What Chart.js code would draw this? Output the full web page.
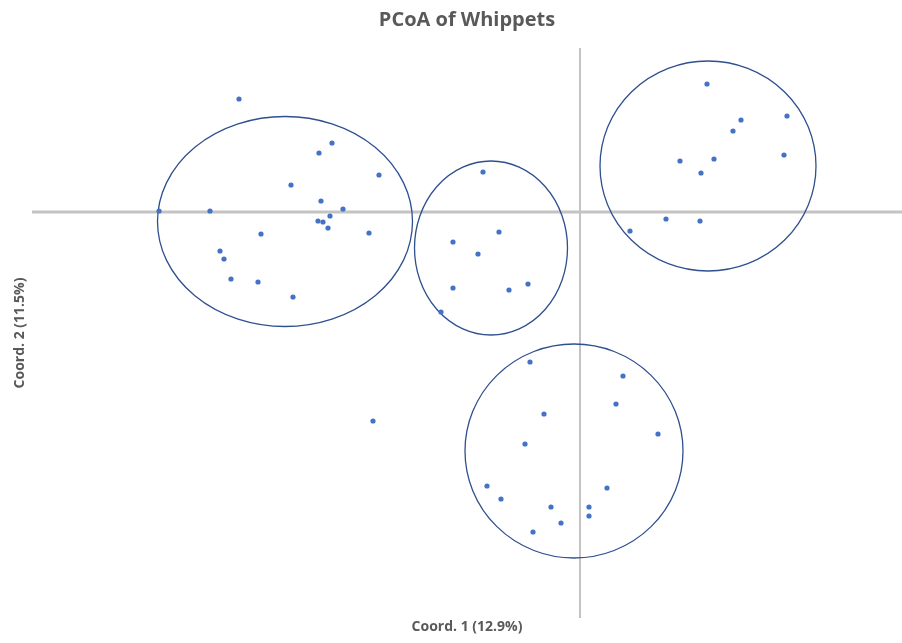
<!DOCTYPE html>
<html>
<head>
<meta charset="utf-8">
<title>PCoA of Whippets</title>
<script src="https://cdn.jsdelivr.net/npm/chart.js@4.4.1/dist/chart.umd.min.js"></script>
<style>
    html, body { margin: 0; padding: 0; background: #ffffff; overflow: hidden; }
    #wrap { width: 902px; height: 643px; }
</style>
</head>
<body>
<div id="wrap"><canvas id="chart"></canvas></div>
<script>
// Koordinaten der Hunde (Coord. 1 / Coord. 2)
const coord1 = [
    -0.341, -0.248, -0.261, -0.201, -0.289, -0.259, -0.421, -0.370, -0.237, -0.250,
    -0.262, -0.257, -0.252, -0.319, -0.211, -0.360, -0.356, -0.349, -0.322, -0.287,
    -0.207,
    -0.097, -0.081, -0.127, -0.102, -0.127, -0.071, -0.052, -0.139,
    0.127, 0.207, 0.161, 0.153, 0.204, 0.100, 0.134, 0.121, 0.086, 0.120, 0.050,
    -0.050, 0.043, 0.036, -0.036, 0.078, -0.055, -0.093, 0.027, -0.079, -0.029,
    0.009, 0.009, -0.019, -0.047
];
const coord2 = [
    0.113, 0.069, 0.059, 0.037, 0.027, 0.011, 0.001, 0.001, 0.003, -0.004,
    -0.009, -0.010, -0.016, -0.022, -0.021, -0.039, -0.047, -0.067, -0.070, -0.085,
    -0.209,
    0.040, -0.020, -0.030, -0.042, -0.076, -0.078, -0.072, -0.100,
    0.128, 0.096, 0.092, 0.081, 0.057, 0.051, 0.053, 0.039, -0.007, -0.009, -0.019,
    -0.150, -0.164, -0.192, -0.202, -0.222, -0.232, -0.274, -0.276, -0.287, -0.295,
    -0.295, -0.304, -0.311, -0.320
];

// Gruppen-Ellipsen (Mittelpunkt + Radien in Datenwerten)
const ellipseCx = [-0.295, -0.089, 0.128, -0.006];
const ellipseCy = [-0.0095, -0.036, 0.046, -0.239];
const ellipseRx = [0.1275, 0.0765, 0.108, 0.109];
const ellipseRy = [0.105, 0.087, 0.105, 0.107];

const xRange = [-0.548, 0.322];
const yRange = [-0.406, 0.164];

const points = coord1.map((x, i) => ({ x, y: coord2[i] }));

// Achsenkreuz bei 0/0
const zeroAxes = {
    id: 'zeroAxes',
    beforeDatasetsDraw(chart) {
        const { ctx, chartArea, scales } = chart;
        const x0 = scales.x.getPixelForValue(0);
        const y0 = scales.y.getPixelForValue(0);
        ctx.save();
        ctx.strokeStyle = '#c3c3c3';
        ctx.lineWidth = 3;
        ctx.beginPath();
        ctx.moveTo(chartArea.left, y0);
        ctx.lineTo(chartArea.right, y0);
        ctx.stroke();
        ctx.lineWidth = 2;
        ctx.beginPath();
        ctx.moveTo(x0, chartArea.top);
        ctx.lineTo(x0, chartArea.bottom);
        ctx.stroke();
        ctx.restore();
    }
};

// Ellipsen um die Gruppen
const groupEllipses = {
    id: 'groupEllipses',
    beforeDatasetsDraw(chart) {
        const { ctx, scales } = chart;
        ctx.save();
        ctx.strokeStyle = '#2f4f8f';
        ctx.lineWidth = 1.3;
        ellipseCx.forEach((cx, i) => {
            const px = scales.x.getPixelForValue(cx);
            const py = scales.y.getPixelForValue(ellipseCy[i]);
            const rx = Math.abs(scales.x.getPixelForValue(cx + ellipseRx[i]) - px);
            const ry = Math.abs(scales.y.getPixelForValue(ellipseCy[i] + ellipseRy[i]) - py);
            ctx.beginPath();
            ctx.ellipse(px, py, rx, ry, 0, 0, Math.PI * 2);
            ctx.stroke();
        });
        ctx.restore();
    }
};

const axisTitle = (text, padding) => ({
    display: true,
    text,
    color: '#595959',
    font: { family: 'Open Sans', size: 14, weight: 'bold' },
    padding,
});

new Chart(document.getElementById('chart'), {
    type: 'scatter',
    data: {
        datasets: [{
            data: points,
            backgroundColor: '#4472c4',
            borderWidth: 0,
            pointRadius: 2.6,
        }],
    },
    options: {
        responsive: true,
        maintainAspectRatio: false,
        animation: false,
        layout: { autoPadding: false, padding: { left: 8.1, right: 0, top: 0, bottom: 0 } },
        plugins: {
            legend: { display: false },
            tooltip: { enabled: false },
            title: {
                display: true,
                fullSize: false,
                text: 'PCoA of Whippets',
                color: '#595959',
                font: { family: 'Open Sans', size: 20, weight: 'bold' },
                padding: { top: 8, bottom: 16 },
            },
        },
        scales: {
            x: {
                type: 'linear',
                min: xRange[0],
                max: xRange[1],
                grid: { display: false, drawTicks: false },
                border: { display: false },
                ticks: { display: false },
                title: axisTitle('Coord. 1 (12.9%)', { top: 0.6, bottom: 7.6 }),
            },
            y: {
                type: 'linear',
                min: yRange[0],
                max: yRange[1],
                grid: { display: false, drawTicks: false },
                border: { display: false },
                ticks: { display: false },
                title: axisTitle('Coord. 2 (11.5%)', { top: 4, bottom: 3.1 }),
            },
        },
    },
    plugins: [zeroAxes, groupEllipses],
});
</script>
</body>
</html>
